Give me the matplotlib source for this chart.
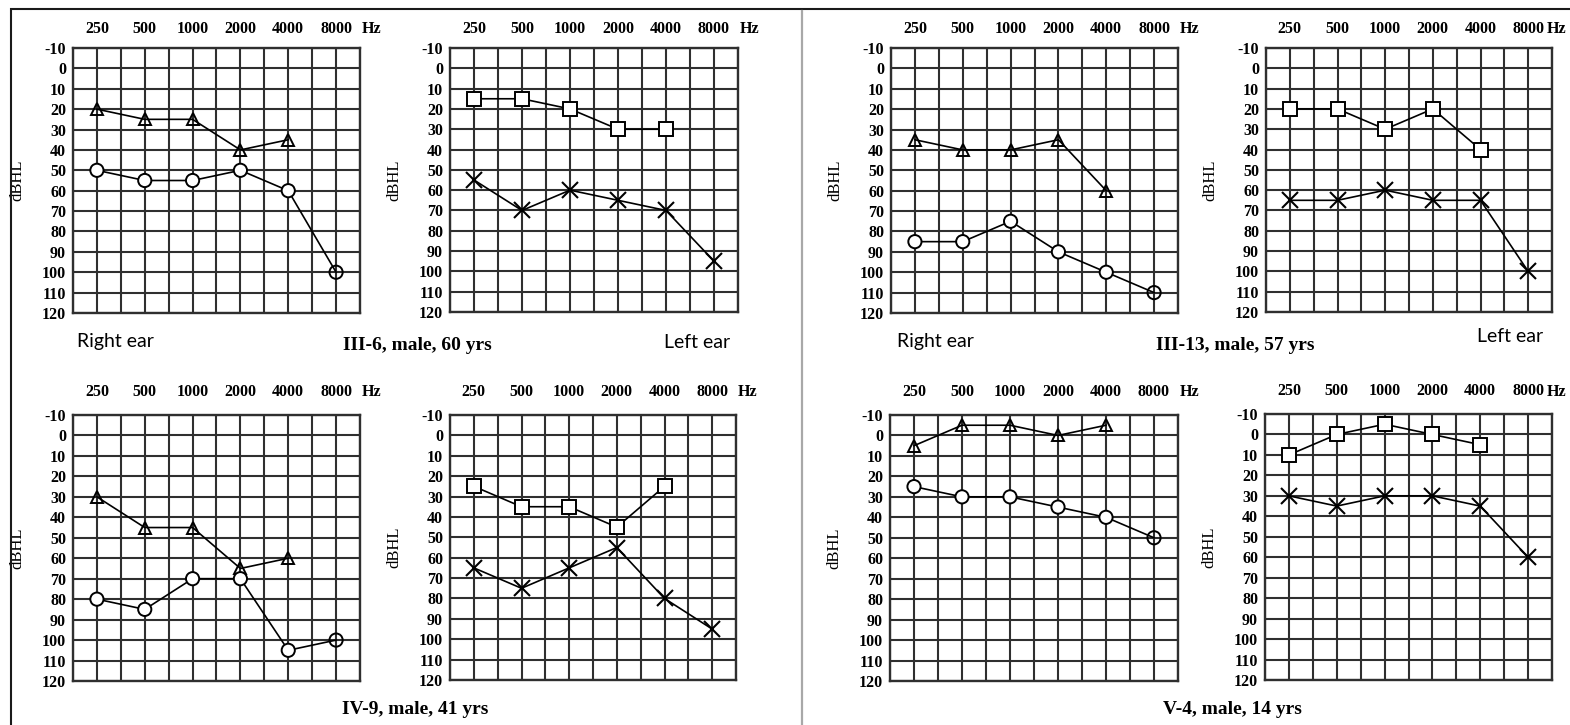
import matplotlib
matplotlib.use("Agg")
import matplotlib.pyplot as plt
from matplotlib.patches import Rectangle
from matplotlib.lines import Line2D

W, H = 1570, 725
DPI = 100

# Test frequencies (Hz) and hearing-level scale (dB HL)
freqs = ["250", "500", "1000", "2000", "4000", "8000"]
db_ticks = list(range(-10, 121, 10))

# III-6, male, 60 yrs
iii6_right_tri = [20, 25, 25, 40, 35]
iii6_right_circ = [50, 55, 55, 50, 60, 100]
iii6_left_sq = [15, 15, 20, 30, 30]
iii6_left_x = [55, 70, 60, 65, 70, 95]

# III-13, male, 57 yrs
iii13_right_tri = [35, 40, 40, 35, 60]
iii13_right_circ = [85, 85, 75, 90, 100, 110]
iii13_left_sq = [20, 20, 30, 20, 40]
iii13_left_x = [65, 65, 60, 65, 65, 100]

# IV-9, male, 41 yrs
iv9_right_tri = [30, 45, 45, 65, 60]
iv9_right_circ = [80, 85, 70, 70, 105, 100]
iv9_left_sq = [25, 35, 35, 45, 25]
iv9_left_x = [65, 75, 65, 55, 80, 95]

# V-4, male, 14 yrs
v4_right_tri = [5, -5, -5, 0, -5]
v4_right_circ = [25, 30, 30, 35, 40, 50]
v4_left_sq = [10, 0, -5, 0, 5]
v4_left_x = [30, 35, 30, 30, 35, 60]

titles = ["III-6, male, 60 yrs", "III-13, male, 57 yrs",
          "IV-9, male, 41 yrs", "V-4, male, 14 yrs"]

SERIF = "Liberation Serif"
SANS = "Lato"
GRID = "#2f2f2f"
TICK_FS = 11.5

fig = plt.figure(figsize=(W / DPI, H / DPI), dpi=DPI)
fig.patch.set_facecolor("white")


def fx(px):
    return px / W


def fy(py):
    return 1 - py / H


def audiogram(rect, first, second, side, row):
    x0, x1, y0, y1 = rect
    ax = fig.add_axes([fx(x0), fy(y1), fx(x1 - x0), (y1 - y0) / H])
    ax.set_xlim(0, 12)
    ax.set_ylim(120, -10)
    pos = [2 * i + 1 for i in range(len(freqs))]
    ax.set_xticks(pos, labels=freqs)
    ax.set_xticks(range(13), minor=True)
    ax.set_yticks(db_ticks, labels=[str(v) for v in db_ticks])
    ax.grid(True, which="both", axis="x", color=GRID, lw=1.5)
    ax.grid(True, which="major", axis="y", color=GRID, lw=1.5)
    ax.set_axisbelow(True)
    for s in ax.spines.values():
        s.set_color(GRID)
        s.set_linewidth(1.7)
    ax.tick_params(axis="x", which="both", length=0, top=False, bottom=False,
                   labeltop=True, labelbottom=False,
                   pad=8 if row == 0 else 11)
    ax.tick_params(axis="y", length=0, pad=5)
    for lab in ax.get_xticklabels() + ax.get_yticklabels():
        lab.set_fontfamily(SERIF)
        lab.set_fontweight("bold")
        lab.set_fontsize(TICK_FS)
    ax.set_ylabel("dBHL", fontfamily=SERIF, fontsize=12)
    ax.yaxis.set_label_coords(-48 / (x1 - x0), 0.5)

    # frequency unit next to the top tick labels, kept inside the page
    hz_y = 29 if row == 0 else 392
    hz_x = min(x0 + 12.5 / 12 * (x1 - x0), W - 13)
    fig.text(fx(hz_x), fy(hz_y), "Hz",
             fontfamily=SERIF, fontweight="bold", fontsize=TICK_FS,
             ha="center", va="center")

    xa = pos[:len(first)]
    xb = pos[:len(second)]
    if side == "right":
        ax.plot(xa, first, color="black", lw=1.2, zorder=3)
        ax.plot(xa, first, ls="none", marker="^", ms=9, mfc="none",
                mec="black", mew=1.4, zorder=4)
        ax.plot(xb, second, color="black", lw=1.2, zorder=3)
        fc = ["white"] * (len(second) - 1) + ["none"]
        ax.scatter(xb, second, s=9.5 ** 2, marker="o", facecolors=fc,
                   edgecolors="black", linewidths=1.4, zorder=4)
    else:
        ax.plot(xa, first, color="black", lw=1.2, zorder=3)
        ax.plot(xa, first, ls="none", marker="s", ms=9.5, mfc="white",
                mec="black", mew=1.4, zorder=4)
        ax.plot(xb, second, color="black", lw=1.2, zorder=3)
        ax.plot(xb, second, ls="none", marker="x", ms=11, mec="black",
                mew=1.5, zorder=4)
    return ax


# top-left: III-6
audiogram((73, 360, 48, 313), iii6_right_tri, iii6_right_circ, "right", 0)
audiogram((450, 738, 48, 312), iii6_left_sq, iii6_left_x, "left", 0)
# top-right: III-13
audiogram((891, 1178, 48, 313), iii13_right_tri, iii13_right_circ, "right", 0)
audiogram((1266, 1552, 48, 312), iii13_left_sq, iii13_left_x, "left", 0)
# bottom-left: IV-9
audiogram((73, 360, 415, 681), iv9_right_tri, iv9_right_circ, "right", 1)
audiogram((450, 736, 415, 680), iv9_left_sq, iv9_left_x, "left", 1)
# bottom-right: V-4
audiogram((890, 1178, 415, 681), v4_right_tri, v4_right_circ, "right", 1)
audiogram((1265, 1552, 414, 680), v4_left_sq, v4_left_x, "left", 1)

# ear captions
fig.text(fx(77), fy(342), "Right ear", fontfamily=SANS, fontsize=14,
         ha="left", va="center")
fig.text(fx(730), fy(343), "Left ear", fontfamily=SANS, fontsize=14,
         ha="right", va="center")
fig.text(fx(897), fy(342), "Right ear", fontfamily=SANS, fontsize=14,
         ha="left", va="center")
fig.text(fx(1543), fy(337), "Left ear", fontfamily=SANS, fontsize=14,
         ha="right", va="center")

# patient captions
for (cx, cy), t in zip([(417, 345), (1235, 346), (415, 710), (1232, 710)], titles):
    fig.text(fx(cx), fy(cy), t, fontfamily=SERIF, fontweight="bold",
             fontsize=14, ha="center", va="center")

# outer frame and central divider
fig.add_artist(Rectangle((fx(11), -0.1), 2, fy(9) + 0.1,
                         transform=fig.transFigure, fill=False,
                         ec="#1a1a1a", lw=1.5))
fig.add_artist(Line2D([fx(802), fx(802)], [0, fy(11)],
                      transform=fig.transFigure, color="#a8a8a8", lw=1.6))

fig.savefig("out.png", dpi=DPI)
